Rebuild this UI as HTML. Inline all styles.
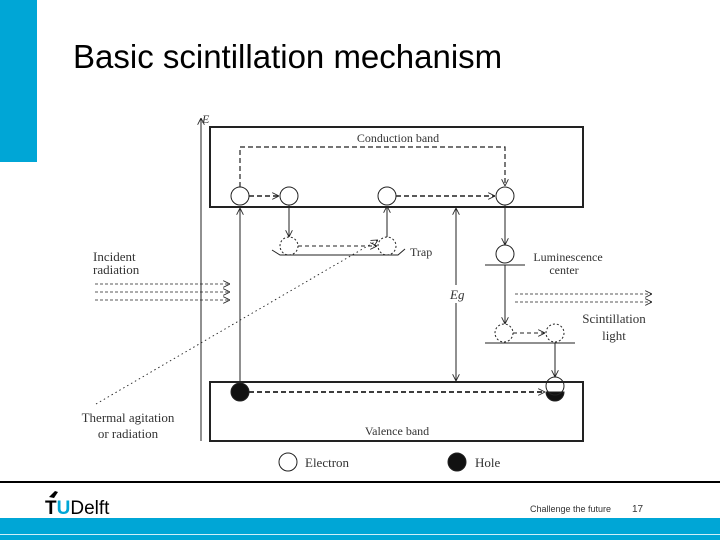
<!DOCTYPE html>
<html><head><style>
html,body{margin:0;padding:0;width:720px;height:540px;overflow:hidden;background:#fff}
</style></head><body>
<svg width="720" height="540" viewBox="0 0 720 540" xmlns="http://www.w3.org/2000/svg">
<defs>
<marker id="a" viewBox="0 0 10 10" refX="10" refY="5" markerWidth="7" markerHeight="7" orient="auto" markerUnits="userSpaceOnUse">
<path d="M0,0 L10,5 L0,10" fill="none" stroke="#222" stroke-width="1.2"/></marker>
</defs>
<rect x="0" y="0" width="37" height="162" fill="#00a6d6"/>
<text x="73" y="68" font-family="Liberation Sans, sans-serif" font-size="33" fill="#000">Basic scintillation mechanism</text>

<g stroke="#222" fill="none" font-family="Liberation Serif, serif">
<rect x="210" y="127" width="373" height="80" stroke-width="2"/>
<rect x="210" y="382" width="373" height="59" stroke-width="2"/>
<line x1="201" y1="441" x2="201" y2="118" stroke-width="1" marker-end="url(#a)"/>
<polyline points="240,187 240,147 505,147 505,186" stroke-dasharray="5,3" stroke-width="1.2" marker-end="url(#a)"/>
<line x1="249" y1="196" x2="279" y2="196" stroke-dasharray="5,3" stroke-width="1.5" marker-end="url(#a)"/>
<line x1="396" y1="196" x2="495" y2="196" stroke-dasharray="5,3" stroke-width="1.5" marker-end="url(#a)"/>
<circle cx="240" cy="196" r="9" stroke-width="1"/>
<circle cx="289" cy="196" r="9" stroke-width="1"/>
<circle cx="387" cy="196" r="9" stroke-width="1"/>
<circle cx="505" cy="196" r="9" stroke-width="1"/>
<line x1="289" y1="205" x2="289" y2="237" marker-end="url(#a)"/>
<line x1="387" y1="237" x2="387" y2="206" marker-end="url(#a)"/>
<circle cx="289" cy="246" r="9" stroke-dasharray="2,2"/>
<circle cx="387" cy="246" r="9" stroke-dasharray="2,2"/>
<line x1="298" y1="246" x2="377" y2="246" stroke-dasharray="4,3" marker-end="url(#a)"/>
<polyline points="272,250 280,255 398,255 405,249"/>
<text x="410" y="256" font-size="12" fill="#333" stroke="none">Trap</text>
<line x1="505" y1="205" x2="505" y2="245" marker-end="url(#a)"/>
<circle cx="505" cy="254" r="9"/>
<line x1="485" y1="265" x2="525" y2="265"/>
<text x="568" y="261" font-size="12" fill="#333" stroke="none" text-anchor="middle">Luminescence</text>
<text x="564" y="274" font-size="12" fill="#333" stroke="none" text-anchor="middle">center</text>
<line x1="505" y1="265" x2="505" y2="324" marker-end="url(#a)"/>
<circle cx="504" cy="333" r="9" stroke-dasharray="2,2"/>
<circle cx="555" cy="333" r="9" stroke-dasharray="2,2"/>
<line x1="513" y1="333" x2="545" y2="333" stroke-dasharray="4,3" marker-end="url(#a)"/>
<line x1="485" y1="343" x2="575" y2="343"/>
<line x1="555" y1="343" x2="555" y2="377" marker-end="url(#a)"/>
<line x1="515" y1="294" x2="652" y2="294" stroke-dasharray="3,2" stroke-width="0.8" marker-end="url(#a)"/>
<line x1="515" y1="302" x2="652" y2="302" stroke-dasharray="3,2" stroke-width="0.8" marker-end="url(#a)"/>
<text x="614" y="323" font-size="13" fill="#333" stroke="none" text-anchor="middle">Scintillation</text>
<text x="614" y="340" font-size="13" fill="#333" stroke="none" text-anchor="middle">light</text>
<line x1="456" y1="381" x2="456" y2="208" marker-end="url(#a)"/>
<line x1="456" y1="300" x2="456" y2="381" marker-end="url(#a)"/>
<rect x="446" y="285" width="20" height="18" fill="#fff" stroke="none"/>
<text x="450" y="299" font-size="13" font-style="italic" fill="#333" stroke="none">Eg</text>
<line x1="240" y1="392" x2="240" y2="208" marker-end="url(#a)"/>
<line x1="95" y1="284" x2="230" y2="284" stroke-dasharray="3,2" stroke-width="0.8" marker-end="url(#a)"/>
<line x1="95" y1="292" x2="230" y2="292" stroke-dasharray="3,2" stroke-width="0.8" marker-end="url(#a)"/>
<line x1="95" y1="300" x2="230" y2="300" stroke-dasharray="3,2" stroke-width="0.8" marker-end="url(#a)"/>
<text x="93" y="261" font-size="13" fill="#333" stroke="none">Incident</text>
<text x="93" y="274" font-size="13" fill="#333" stroke="none">radiation</text>
<line x1="96" y1="404" x2="378" y2="240" stroke-dasharray="1.5,3" stroke-width="0.9" marker-end="url(#a)"/>
<text x="128" y="422" font-size="13" fill="#333" stroke="none" text-anchor="middle">Thermal agitation</text>
<text x="128" y="438" font-size="13" fill="#333" stroke="none" text-anchor="middle">or radiation</text>
<line x1="249" y1="392" x2="545" y2="392" stroke-dasharray="5,3" stroke-width="1.8" marker-end="url(#a)"/>
<circle cx="240" cy="392" r="9" fill="#111"/>
<path d="M546,392 A9,9 0 0,0 564,392 Z" fill="#111"/>
<circle cx="555" cy="386" r="9"/>
<text x="202" y="123" font-size="12" font-style="italic" fill="#333" stroke="none">E</text>
<text x="398" y="142" font-size="12" fill="#333" stroke="none" text-anchor="middle">Conduction band</text>
<text x="397" y="435" font-size="12" fill="#333" stroke="none" text-anchor="middle">Valence band</text>
<circle cx="288" cy="462" r="9"/>
<text x="305" y="467" font-size="13" fill="#333" stroke="none">Electron</text>
<circle cx="457" cy="462" r="9" fill="#111"/>
<text x="475" y="467" font-size="13" fill="#333" stroke="none">Hole</text>
</g>

<rect x="0" y="481" width="720" height="2" fill="#000"/>
<text x="45" y="514" font-family="Liberation Sans, sans-serif" font-size="19" font-weight="bold" fill="#000">T<tspan fill="#00a6d6">U</tspan><tspan font-weight="normal">Delft</tspan></text>
<path d="M49,497 l6,-6 l3,1 l-4,6 z" fill="#000"/>
<text x="530" y="512" font-family="Liberation Sans, sans-serif" font-size="9" fill="#333">Challenge the future</text>
<text x="632" y="512" font-family="Liberation Sans, sans-serif" font-size="10" fill="#333">17</text>
<rect x="0" y="518" width="720" height="22" fill="#00a6d6"/>
<rect x="0" y="534" width="720" height="1" fill="#cfeef8"/>
</svg>
</body></html>
